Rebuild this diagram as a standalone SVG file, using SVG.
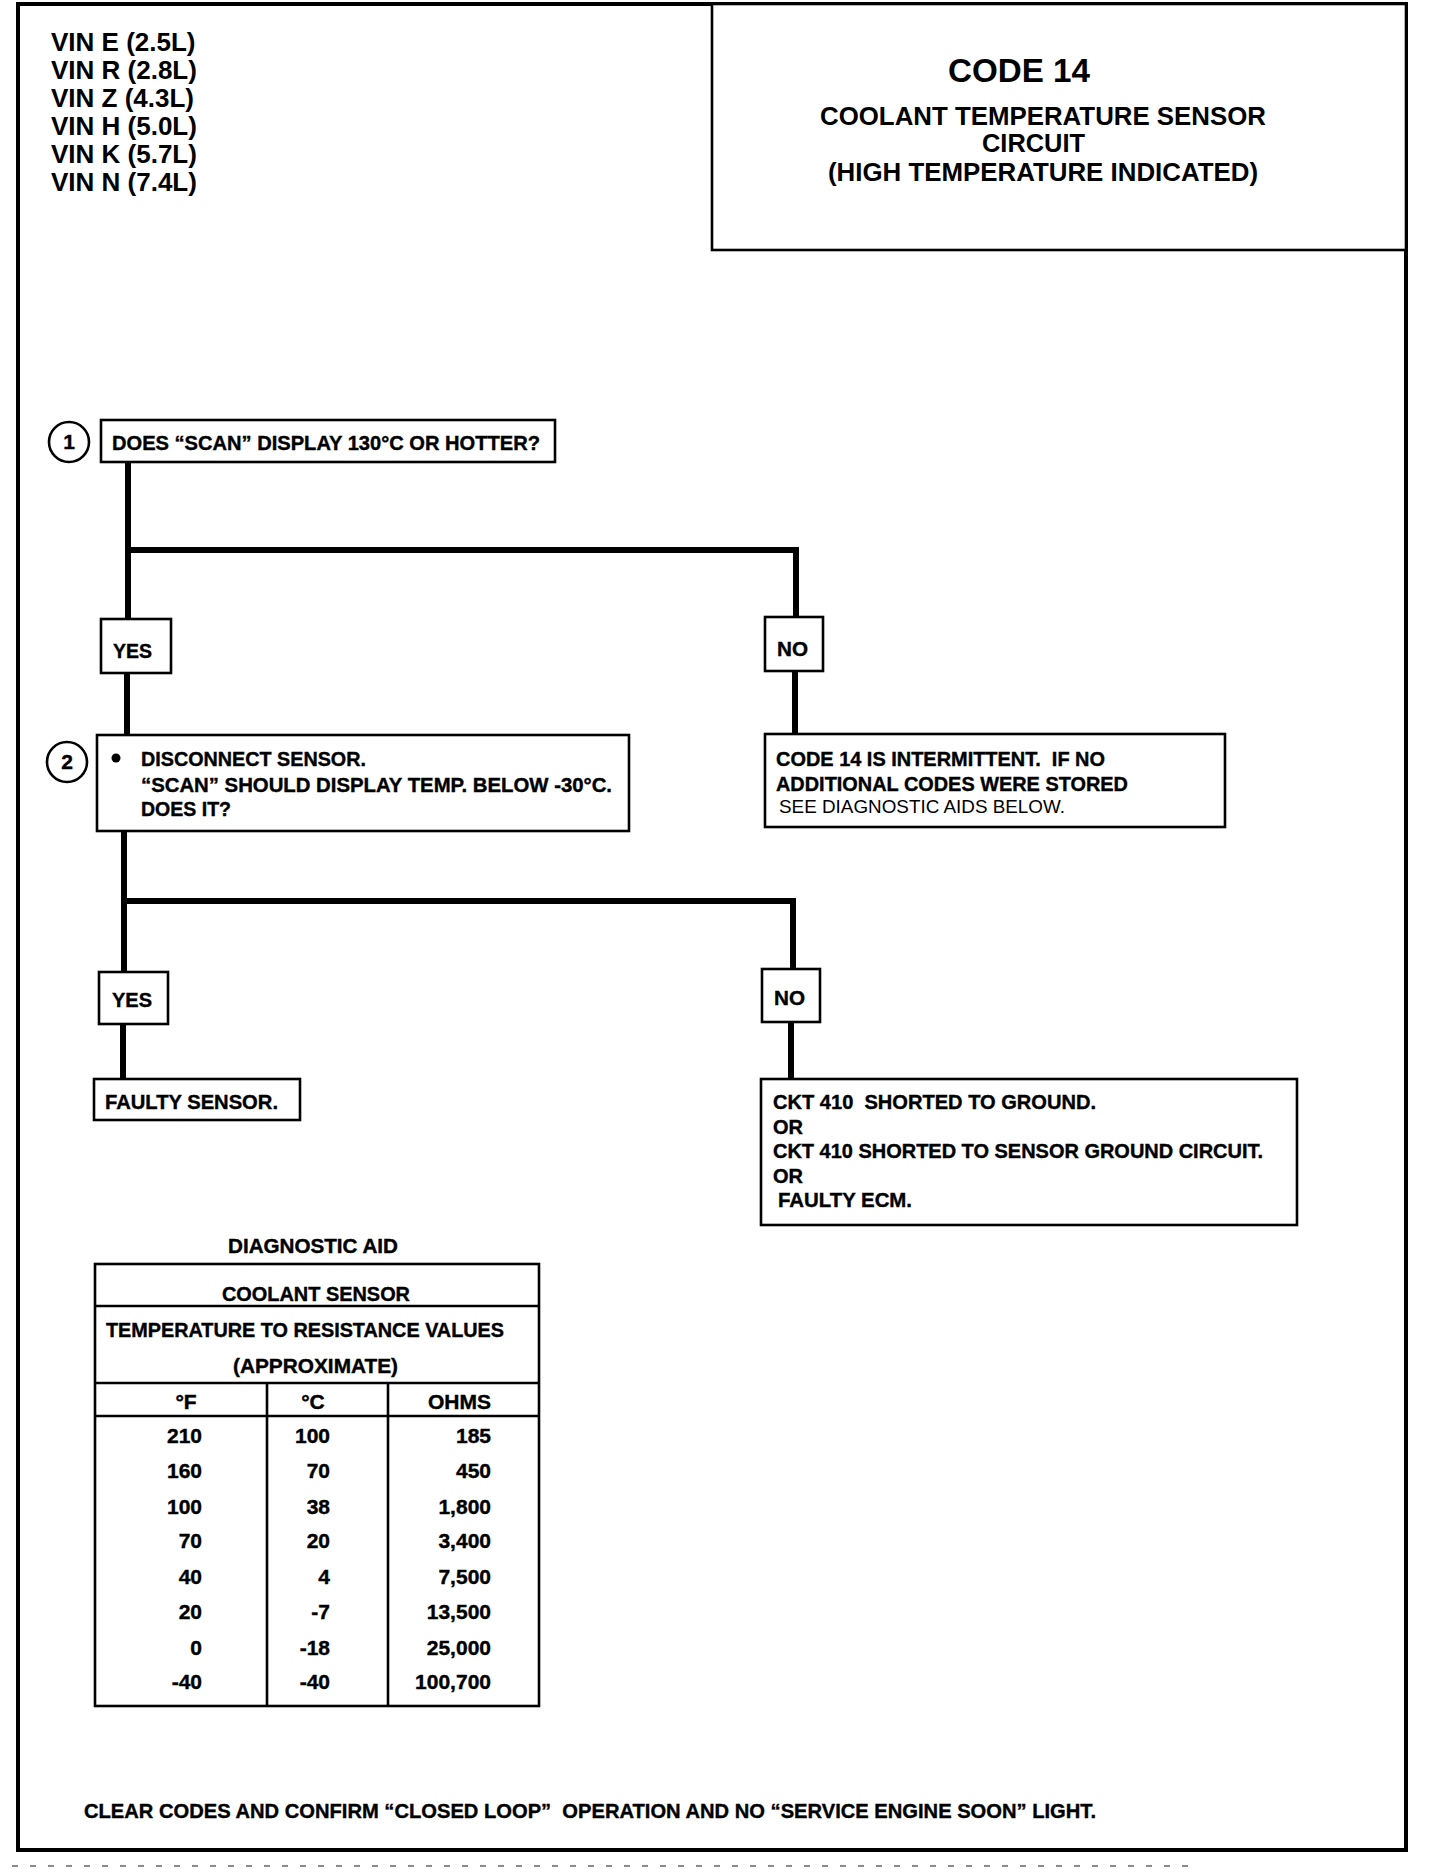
<svg xmlns="http://www.w3.org/2000/svg" width="1440" height="1874" viewBox="0 0 1440 1874">
<style>
.box{fill:#fff;stroke:#000;stroke-width:2.6}
.frame{fill:none;stroke:#000;stroke-width:4}
.conn{fill:none;stroke:#000;stroke-width:6;stroke-linecap:square;stroke-linejoin:miter}
.tbl{fill:none;stroke:#000;stroke-width:2.6}
.h{font-family:"Liberation Sans",Arial,sans-serif;font-weight:bold;fill:#000}
.f{font-family:"Liberation Sans",Arial,sans-serif;font-weight:bold;fill:#000;font-size:21px;stroke:#000;stroke-width:0.4}
.s{font-family:"Liberation Sans",Arial,sans-serif;fill:#000;font-size:18px}
.c{text-anchor:middle}
.r{text-anchor:end}
</style>
<rect width="1440" height="1874" fill="#fff"/>
<g id="frame">
<rect class="frame" x="18" y="4" width="1388" height="1846"/>
<line x1="12" y1="1866" x2="1195" y2="1866" stroke="#000" stroke-width="1.5" stroke-dasharray="6 12" opacity="0.6"/>
</g>
<g id="vin-list" class="h" font-size="26">
<text x="51" y="51">VIN E (2.5L)</text>
<text x="51" y="79">VIN R (2.8L)</text>
<text x="51" y="107">VIN Z (4.3L)</text>
<text x="51" y="135">VIN H (5.0L)</text>
<text x="51" y="163">VIN K (5.7L)</text>
<text x="51" y="191">VIN N (7.4L)</text>
</g>
<g id="title">
<rect class="box" x="712" y="4" width="694" height="246"/>
<text class="h" x="948" y="82" font-size="34" textLength="142" lengthAdjust="spacingAndGlyphs">CODE 14</text>
<text class="h" x="820" y="125" font-size="25" textLength="446" lengthAdjust="spacingAndGlyphs">COOLANT TEMPERATURE SENSOR</text>
<text class="h" x="982" y="152" font-size="25" textLength="103" lengthAdjust="spacingAndGlyphs">CIRCUIT</text>
<text class="h" x="828" y="181" font-size="25" textLength="430" lengthAdjust="spacingAndGlyphs">(HIGH TEMPERATURE INDICATED)</text>
</g>
<g id="connectors">
<path class="conn" d="M128,462 V619"/>
<path class="conn" d="M128,550 H796 V617"/>
<path class="conn" d="M127,673 V735"/>
<path class="conn" d="M795,671 V734"/>
<path class="conn" d="M124,831 V972"/>
<path class="conn" d="M124,901 H793 V969"/>
<path class="conn" d="M123,1024 V1079"/>
<path class="conn" d="M791,1022 V1079"/>
</g>
<g id="step1">
<circle cx="69" cy="442" r="20" fill="#fff" stroke="#000" stroke-width="2.6"/>
<text class="f c" x="69" y="449">1</text>
<rect class="box" x="101" y="420" width="454" height="42"/>
<text class="f" x="112" y="450" textLength="428" lengthAdjust="spacingAndGlyphs">DOES “SCAN” DISPLAY 130°C OR HOTTER?</text>
</g>
<g id="yes1">
<rect class="box" x="101" y="619" width="70" height="54"/>
<text class="f" x="113" y="658" font-size="19" textLength="39" lengthAdjust="spacingAndGlyphs">YES</text>
</g>
<g id="no1">
<rect class="box" x="765" y="617" width="58" height="54"/>
<text class="f" x="777" y="656" font-size="19" textLength="31" lengthAdjust="spacingAndGlyphs">NO</text>
</g>
<g id="step2">
<circle cx="67" cy="762" r="20" fill="#fff" stroke="#000" stroke-width="2.6"/>
<text class="f c" x="67" y="769">2</text>
<rect class="box" x="97" y="735" width="532" height="96"/>
<circle cx="116" cy="758" r="4.5" fill="#000"/>
<text class="f" x="141" y="766" textLength="225" lengthAdjust="spacingAndGlyphs">DISCONNECT SENSOR.</text>
<text class="f" x="141" y="792" textLength="471" lengthAdjust="spacingAndGlyphs">“SCAN” SHOULD DISPLAY TEMP. BELOW -30°C.</text>
<text class="f" x="141" y="816" textLength="90" lengthAdjust="spacingAndGlyphs">DOES IT?</text>
</g>
<g id="intermittent">
<rect class="box" x="765" y="734" width="460" height="93"/>
<text class="f" x="776" y="766" textLength="329" lengthAdjust="spacingAndGlyphs" xml:space="preserve">CODE 14 IS INTERMITTENT.  IF NO</text>
<text class="f" x="776" y="791" textLength="352" lengthAdjust="spacingAndGlyphs">ADDITIONAL CODES WERE STORED</text>
<text class="s" x="779" y="813" textLength="286" lengthAdjust="spacingAndGlyphs">SEE DIAGNOSTIC AIDS BELOW.</text>
</g>
<g id="yes2">
<rect class="box" x="99" y="972" width="69" height="52"/>
<text class="f" x="112" y="1007" font-size="19" textLength="40" lengthAdjust="spacingAndGlyphs">YES</text>
</g>
<g id="no2">
<rect class="box" x="762" y="969" width="58" height="53"/>
<text class="f" x="774" y="1005" font-size="19" textLength="31" lengthAdjust="spacingAndGlyphs">NO</text>
</g>
<g id="faulty-sensor">
<rect class="box" x="94" y="1079" width="206" height="41"/>
<text class="f" x="105" y="1109" textLength="173" lengthAdjust="spacingAndGlyphs">FAULTY SENSOR.</text>
</g>
<g id="ckt410">
<rect class="box" x="761" y="1079" width="536" height="146"/>
<text class="f" x="773" y="1109" textLength="323" lengthAdjust="spacingAndGlyphs" xml:space="preserve">CKT 410  SHORTED TO GROUND.</text>
<text class="f" x="773" y="1134" textLength="30" lengthAdjust="spacingAndGlyphs">OR</text>
<text class="f" x="773" y="1158" textLength="490" lengthAdjust="spacingAndGlyphs">CKT 410 SHORTED TO SENSOR GROUND CIRCUIT.</text>
<text class="f" x="773" y="1183" textLength="30" lengthAdjust="spacingAndGlyphs">OR</text>
<text class="f" x="778" y="1207" textLength="134" lengthAdjust="spacingAndGlyphs">FAULTY ECM.</text>
</g>
<g id="diagnostic-aid">
<text class="f" x="228" y="1253" textLength="170" lengthAdjust="spacingAndGlyphs">DIAGNOSTIC AID</text>
<rect class="tbl" x="95" y="1264" width="444" height="442"/>
<line class="tbl" x1="95" y1="1306" x2="539" y2="1306"/>
<line class="tbl" x1="95" y1="1383" x2="539" y2="1383"/>
<line class="tbl" x1="95" y1="1416" x2="539" y2="1416"/>
<line class="tbl" x1="267" y1="1383" x2="267" y2="1706"/>
<line class="tbl" x1="388" y1="1383" x2="388" y2="1706"/>
<text class="f" x="222" y="1301" textLength="188" lengthAdjust="spacingAndGlyphs">COOLANT SENSOR</text>
<text class="f" x="106" y="1337" textLength="398" lengthAdjust="spacingAndGlyphs">TEMPERATURE TO RESISTANCE VALUES</text>
<text class="f" x="233" y="1373" textLength="165" lengthAdjust="spacingAndGlyphs">(APPROXIMATE)</text>
<text class="f c" x="186" y="1409">°F</text>
<text class="f c" x="313" y="1409">°C</text>
<text class="f" x="428" y="1409" textLength="63" lengthAdjust="spacingAndGlyphs">OHMS</text>
<g class="f r">
<text x="202" y="1443">210</text><text x="330" y="1443">100</text><text x="491" y="1443">185</text>
<text x="202" y="1478">160</text><text x="330" y="1478">70</text><text x="491" y="1478">450</text>
<text x="202" y="1514">100</text><text x="330" y="1514">38</text><text x="491" y="1514">1,800</text>
<text x="202" y="1548">70</text><text x="330" y="1548">20</text><text x="491" y="1548">3,400</text>
<text x="202" y="1584">40</text><text x="330" y="1584">4</text><text x="491" y="1584">7,500</text>
<text x="202" y="1619">20</text><text x="330" y="1619">-7</text><text x="491" y="1619">13,500</text>
<text x="202" y="1655">0</text><text x="330" y="1655">-18</text><text x="491" y="1655">25,000</text>
<text x="202" y="1689">-40</text><text x="330" y="1689">-40</text><text x="491" y="1689">100,700</text>
</g>
</g>
<g id="footer">
<text class="f" x="84" y="1818" textLength="1012" lengthAdjust="spacingAndGlyphs" xml:space="preserve">CLEAR CODES AND CONFIRM “CLOSED LOOP”  OPERATION AND NO “SERVICE ENGINE SOON” LIGHT.</text>
</g>
</svg>
